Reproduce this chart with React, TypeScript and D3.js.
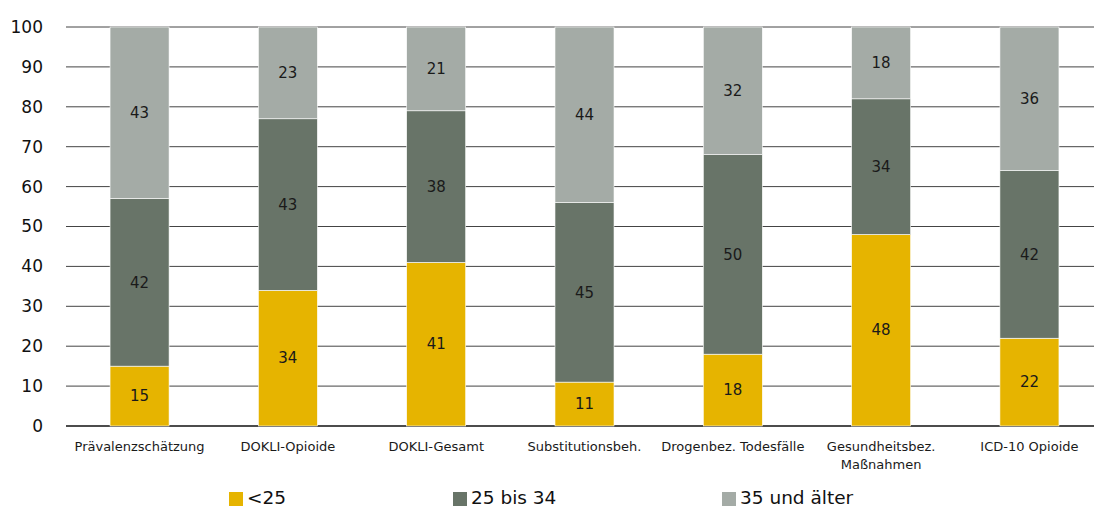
import React from "react";
import * as d3 from "d3";

const categories = [
  ["Prävalenzschätzung"],
  ["DOKLI-Opioide"],
  ["DOKLI-Gesamt"],
  ["Substitutionsbeh."],
  ["Drogenbez. Todesfälle"],
  ["Gesundheitsbez.", "Maßnahmen"],
  ["ICD-10 Opioide"],
];
const under25 = [15, 34, 41, 11, 18, 48, 22];
const from25to34 = [42, 43, 38, 45, 50, 34, 42];
const over35 = [43, 23, 21, 44, 32, 18, 36];
const seriesNames = ["<25", "25 bis 34", "35 und älter"];
const colors = ["#E6B400", "#687468", "#A4ABA6"];
const yTicks = [0, 10, 20, 30, 40, 50, 60, 70, 80, 90, 100];

export default function App() {
  const W = 1094, H = 507;
  const left = 66, right = 1094, top = 27, bottom = 426;
  const x = d3.scaleBand<number>().domain(d3.range(categories.length)).range([left, 1103]).paddingInner(0.602).paddingOuter(0.297);
  const y = d3.scaleLinear().domain([0, 100]).range([bottom, top]);
  const series = [under25, from25to34, over35];
  const font = "'DejaVu Sans', sans-serif";
  const legendX = [229, 453, 722];
  return (
    <svg width={W} height={H} style={{ position: "absolute", left: 0, top: 0, display: "block" }}>
      <rect width={W} height={H} fill="#fff" />
      {yTicks.map((t) => (
        <g key={t}>
          <line x1={left} x2={right} y1={y(t)} y2={y(t)} stroke={t === 0 ? "#111" : "#444"} strokeWidth={t === 0 ? 1.5 : 1} />
          <text x={43} y={y(t)} dy="0.35em" textAnchor="end" fontFamily={font} fontSize={17} fill="#111">{t}</text>
        </g>
      ))}
      {categories.map((c, i) => {
        let acc = 0;
        return (
          <g key={i}>
            {series.map((s, k) => {
              const y0 = acc, y1 = acc + s[i];
              acc = y1;
              return (
                <g key={k}>
                  <rect x={x(i)} width={x.bandwidth()} y={y(y1)} height={y(y0) - y(y1)} fill={colors[k]} stroke="#fff" strokeWidth={0.6} />
                  <text x={x(i)! + x.bandwidth() / 2} y={y((y0 + y1) / 2)} dy="0.35em" textAnchor="middle" fontFamily={font} fontSize={15} fill="#1a1a1a">{s[i]}</text>
                </g>
              );
            })}
            {c.map((line, j) => (
              <text key={j} x={x(i)! + x.bandwidth() / 2} y={451 + j * 18} textAnchor="middle" fontFamily={font} fontSize={13} fill="#1a1a1a">{line}</text>
            ))}
          </g>
        );
      })}
      {seriesNames.map((n, k) => (
        <g key={k}>
          <rect x={legendX[k]} y={492} width={14} height={14} fill={colors[k]} />
          <text x={legendX[k] + 18} y={504} fontFamily={font} fontSize={18.5} fill="#111">{n}</text>
        </g>
      ))}
    </svg>
  );
}
